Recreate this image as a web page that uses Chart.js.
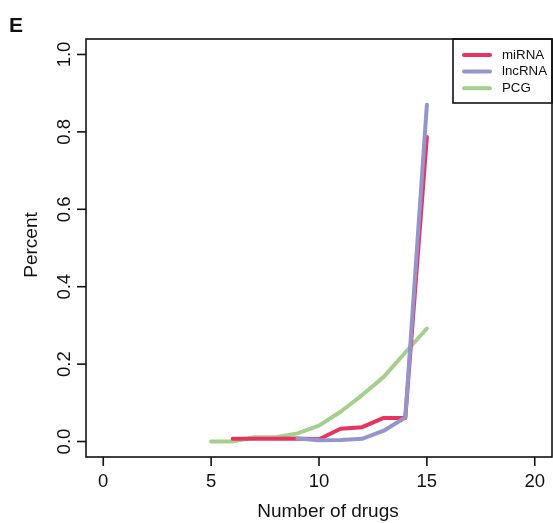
<!DOCTYPE html>
<html lang="en">
<head>
  <meta charset="UTF-8" />
  <title>Number of drugs vs Percent</title>
  <script src="https://cdn.jsdelivr.net/npm/chart.js"></script>
  <style>
    html, body { margin: 0; padding: 0; background: #fff; }
    #wrap { width: 553px; height: 523px; position: relative; }
  </style>
</head>
<body>
  <div id="wrap"><canvas id="drugChart" width="553" height="523"></canvas></div>

  <script>
    // values
    const drugCounts = [5, 6, 7, 8, 9, 10, 11, 12, 13, 14, 15];
    const mirna  = [null, 0.007, 0.007, 0.007, 0.008, 0.006, 0.033, 0.037, 0.061, 0.061, 0.787];
    const lncrna = [null, null, null, null, 0.008, 0.003, 0.004, 0.007, 0.028, 0.062, 0.87];
    const pcg    = [0.0, 0.0, 0.011, 0.011, 0.021, 0.041, 0.077, 0.12, 0.167, 0.23, 0.292];

    const xTicks = [0, 5, 10, 15, 20];
    const yTicks = [0, 0.2, 0.4, 0.6, 0.8, 1.0];
    const seriesNames = ["miRNA", "lncRNA", "PCG"];
    const seriesColors = ["#E8335F", "#9595CD", "#A4CF8D"];

    const toPoints = vals => drugCounts
      .map((x, i) => ({ x, y: vals[i] }))
      .filter(p => p.y !== null);

    const font = "Liberation Sans, Arial, Helvetica, sans-serif";

    // R-style box, ticks, labels and legend
    const rAxes = {
      id: "rAxes",
      afterDraw(chart) {
        const { ctx, chartArea: a, scales: { x, y } } = chart;
        ctx.save();
        ctx.strokeStyle = "#111";
        ctx.fillStyle = "#111";
        ctx.lineWidth = 1.6;
        ctx.strokeRect(a.left, a.top, a.right - a.left, a.bottom - a.top);

        // x ticks
        ctx.font = "18.5px " + font;
        ctx.textAlign = "center";
        ctx.textBaseline = "alphabetic";
        xTicks.forEach(v => {
          const px = x.getPixelForValue(v);
          ctx.beginPath();
          ctx.moveTo(px, a.bottom);
          ctx.lineTo(px, a.bottom + 9);
          ctx.stroke();
          ctx.fillText(String(v), px, a.bottom + 30);
        });

        // y ticks (labels rotated like R)
        yTicks.forEach(v => {
          const py = y.getPixelForValue(v);
          ctx.beginPath();
          ctx.moveTo(a.left, py);
          ctx.lineTo(a.left - 9, py);
          ctx.stroke();
          ctx.save();
          ctx.translate(a.left - 16, py);
          ctx.rotate(-Math.PI / 2);
          ctx.fillText(v.toFixed(1), 0, 0);
          ctx.restore();
        });

        // axis titles
        ctx.font = "19px " + font;
        ctx.fillText("Number of drugs", (a.left + a.right) / 2 + 9, a.bottom + 60);
        ctx.save();
        ctx.translate(37, (a.top + a.bottom) / 2 - 3);
        ctx.rotate(-Math.PI / 2);
        ctx.fillText("Percent", 0, 0);
        ctx.restore();

        // panel letter
        ctx.font = "bold 21px " + font;
        ctx.textAlign = "left";
        ctx.fillText("E", 9, 32);

        // legend box in the top-right corner
        const lw = 99, lh = 64;
        const lx = a.right - lw, ly = a.top;
        ctx.lineWidth = 1.6;
        ctx.strokeRect(lx, ly, lw, lh);
        ctx.font = "13.3px " + font;
        ctx.textBaseline = "middle";
        seriesNames.forEach((name, i) => {
          const ry = ly + 16 + i * 16.6;
          ctx.strokeStyle = seriesColors[i];
          ctx.lineWidth = 4;
          ctx.lineCap = "round";
          ctx.beginPath();
          ctx.moveTo(lx + 11, ry);
          ctx.lineTo(lx + 37, ry);
          ctx.stroke();
          ctx.fillStyle = "#111";
          ctx.fillText(name, lx + 49, ry);
        });
        ctx.restore();
      }
    };

    const orders = [1, 0, 2];
    const datasets = [mirna, lncrna, pcg].map((vals, i) => ({
      label: seriesNames[i],
      data: toPoints(vals),
      borderColor: seriesColors[i],
      borderWidth: 4,
      borderCapStyle: "round",
      borderJoinStyle: "round",
      pointRadius: 0,
      tension: 0,
      fill: false,
      order: orders[i]
    }));

    new Chart(document.getElementById("drugChart"), {
      type: "line",
      data: { datasets },
      options: {
        responsive: false,
        animation: false,
        events: [],
        layout: { padding: { left: 86, right: 1, top: 39, bottom: 66 } },
        plugins: { legend: { display: false }, tooltip: { enabled: false } },
        scales: {
          x: { type: "linear", min: -0.8, max: 20.8, display: false },
          y: { type: "linear", min: -0.04, max: 1.04, display: false }
        }
      },
      plugins: [rAxes]
    });
  </script>
</body>
</html>
